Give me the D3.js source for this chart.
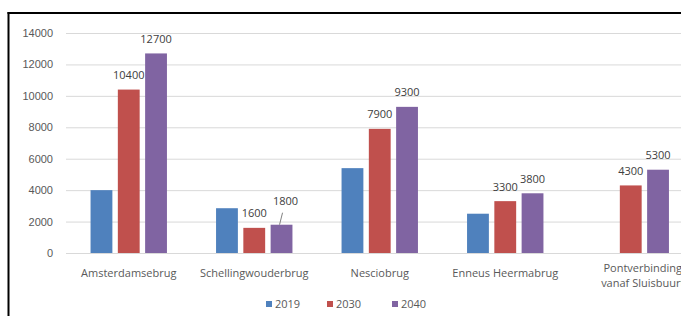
<!DOCTYPE html>
<html>
<head>
<meta charset="utf-8">
<script src="https://cdn.jsdelivr.net/npm/d3@7"></script>
<style>
  body { margin: 0; background: #fff; }
  svg { display: block; font-family: "Open Sans", "Noto Sans", sans-serif; }
</style>
</head>
<body>
<svg width="681" height="316"></svg>
<script>
// data
const categories = ['Amsterdamsebrug', 'Schellingwouderbrug', 'Nesciobrug', 'Enneus Heermabrug', 'Pontverbinding vanaf Sluisbuurt'];
const categoryLines = [['Amsterdamsebrug'], ['Schellingwouderbrug'], ['Nesciobrug'], ['Enneus Heermabrug'], ['Pontverbinding', 'vanaf Sluisbuurt']];
const years = ['2019', '2030', '2040'];
const values2019 = [4000, 2850, 5400, 2500, null];
const values2030 = [10400, 1600, 7900, 3300, 4300];
const values2040 = [12700, 1800, 9300, 3800, 5300];
const yTicks = [0, 2000, 4000, 6000, 8000, 10000, 12000, 14000];
const labelledYears = ['2030', '2040'];

const colors = {'2019': '#4f81bd', '2030': '#c0504d', '2040': '#8064a2'};
const seriesValues = {'2019': values2019, '2030': values2030, '2040': values2040};

const svg = d3.select('svg');
const width = +svg.attr('width');
const height = +svg.attr('height');

// frame of the scanned picture (left and top edge only)
svg.append('line').attr('x1', 8.5).attr('x2', 8.5).attr('y1', 12).attr('y2', height)
    .attr('stroke', '#000').attr('stroke-width', 2);
svg.append('line').attr('x1', 7.5).attr('x2', width).attr('y1', 13).attr('y2', 13)
    .attr('stroke', '#000').attr('stroke-width', 2);

// scales
const x0 = d3.scaleBand().domain(categories).range([66, 693.5]).padding(0);
const x1 = d3.scaleBand().domain(years).range([0, x0.bandwidth()])
    .paddingInner(0.2).paddingOuter(0.9);
const y = d3.scaleLinear().domain([0, 14000]).range([253, 33]);

// grid
const gY = svg.append('g').attr('transform', 'translate(66,0)')
    .call(d3.axisLeft(y).tickValues(yTicks).tickSize(-(width - 66)).tickPadding(13).tickFormat(d3.format('d')));
gY.select('.domain').remove();
gY.selectAll('line').attr('stroke', '#d9d9d9');
gY.selectAll('text').attr('fill', '#595959').attr('font-size', 11);

// bars
const rows = [];
categories.forEach((c, i) => years.forEach(yr => {
    const v = seriesValues[yr][i];
    if (v != null) rows.push({cat: c, idx: i, year: yr, value: v});
}));

svg.append('g').selectAll('rect')
    .data(rows)
    .enter()
    .append('rect')
    .attr('x', d => x0(d.cat) + x1(d.year))
    .attr('y', d => y(d.value))
    .attr('width', x1.bandwidth())
    .attr('height', d => y(0) - y(d.value))
    .attr('fill', d => colors[d.year]);

// data labels (only 2030 and 2040 have them); one is pushed up with a leader line
const nudge = {'1-2040': [4, -9]};
const lab = svg.append('g');
rows.filter(d => labelledYears.includes(d.year)).forEach(d => {
    const cx = x0(d.cat) + x1(d.year) + x1.bandwidth() / 2;
    const top = y(d.value);
    const n = nudge[d.idx + '-' + d.year] || [0, 0];
    lab.append('text')
        .attr('x', cx + n[0]).attr('y', top - 10.5 + n[1])
        .attr('text-anchor', 'middle')
        .attr('fill', '#404040').attr('font-size', 11)
        .text(d.value);
    if (n[1] !== 0) {
        lab.append('line')
            .attr('x1', cx - 2).attr('y1', top)
            .attr('x2', cx + 1).attr('y2', top - 12)
            .attr('stroke', '#808080').attr('stroke-width', 1);
    }
});

// category labels (the wrapped one sits a bit to the right, runs off the edge)
const catG = svg.append('g');
categories.forEach((c, i) => {
    const lines = categoryLines[i];
    const cx = x0(c) + x0.bandwidth() / 2 + (lines.length > 1 ? 12 : 0);
    const t = catG.append('text')
        .attr('x', cx)
        .attr('y', lines.length > 1 ? 272 : 277)
        .attr('text-anchor', 'middle')
        .attr('fill', '#595959').attr('font-size', 11);
    lines.forEach((l, k) => t.append('tspan')
        .attr('x', cx)
        .attr('dy', k === 0 ? 0 : 15)
        .text(l));
});

// legend
const legendX = [266, 327, 392];
const legend = svg.append('g');
years.forEach((yr, i) => {
    legend.append('rect').attr('x', legendX[i]).attr('y', 301)
        .attr('width', 6).attr('height', 6).attr('fill', colors[yr]);
    legend.append('text').attr('x', legendX[i] + 9).attr('y', 308)
        .attr('fill', '#595959').attr('font-size', 11).text(yr);
});
</script>
</body>
</html>
